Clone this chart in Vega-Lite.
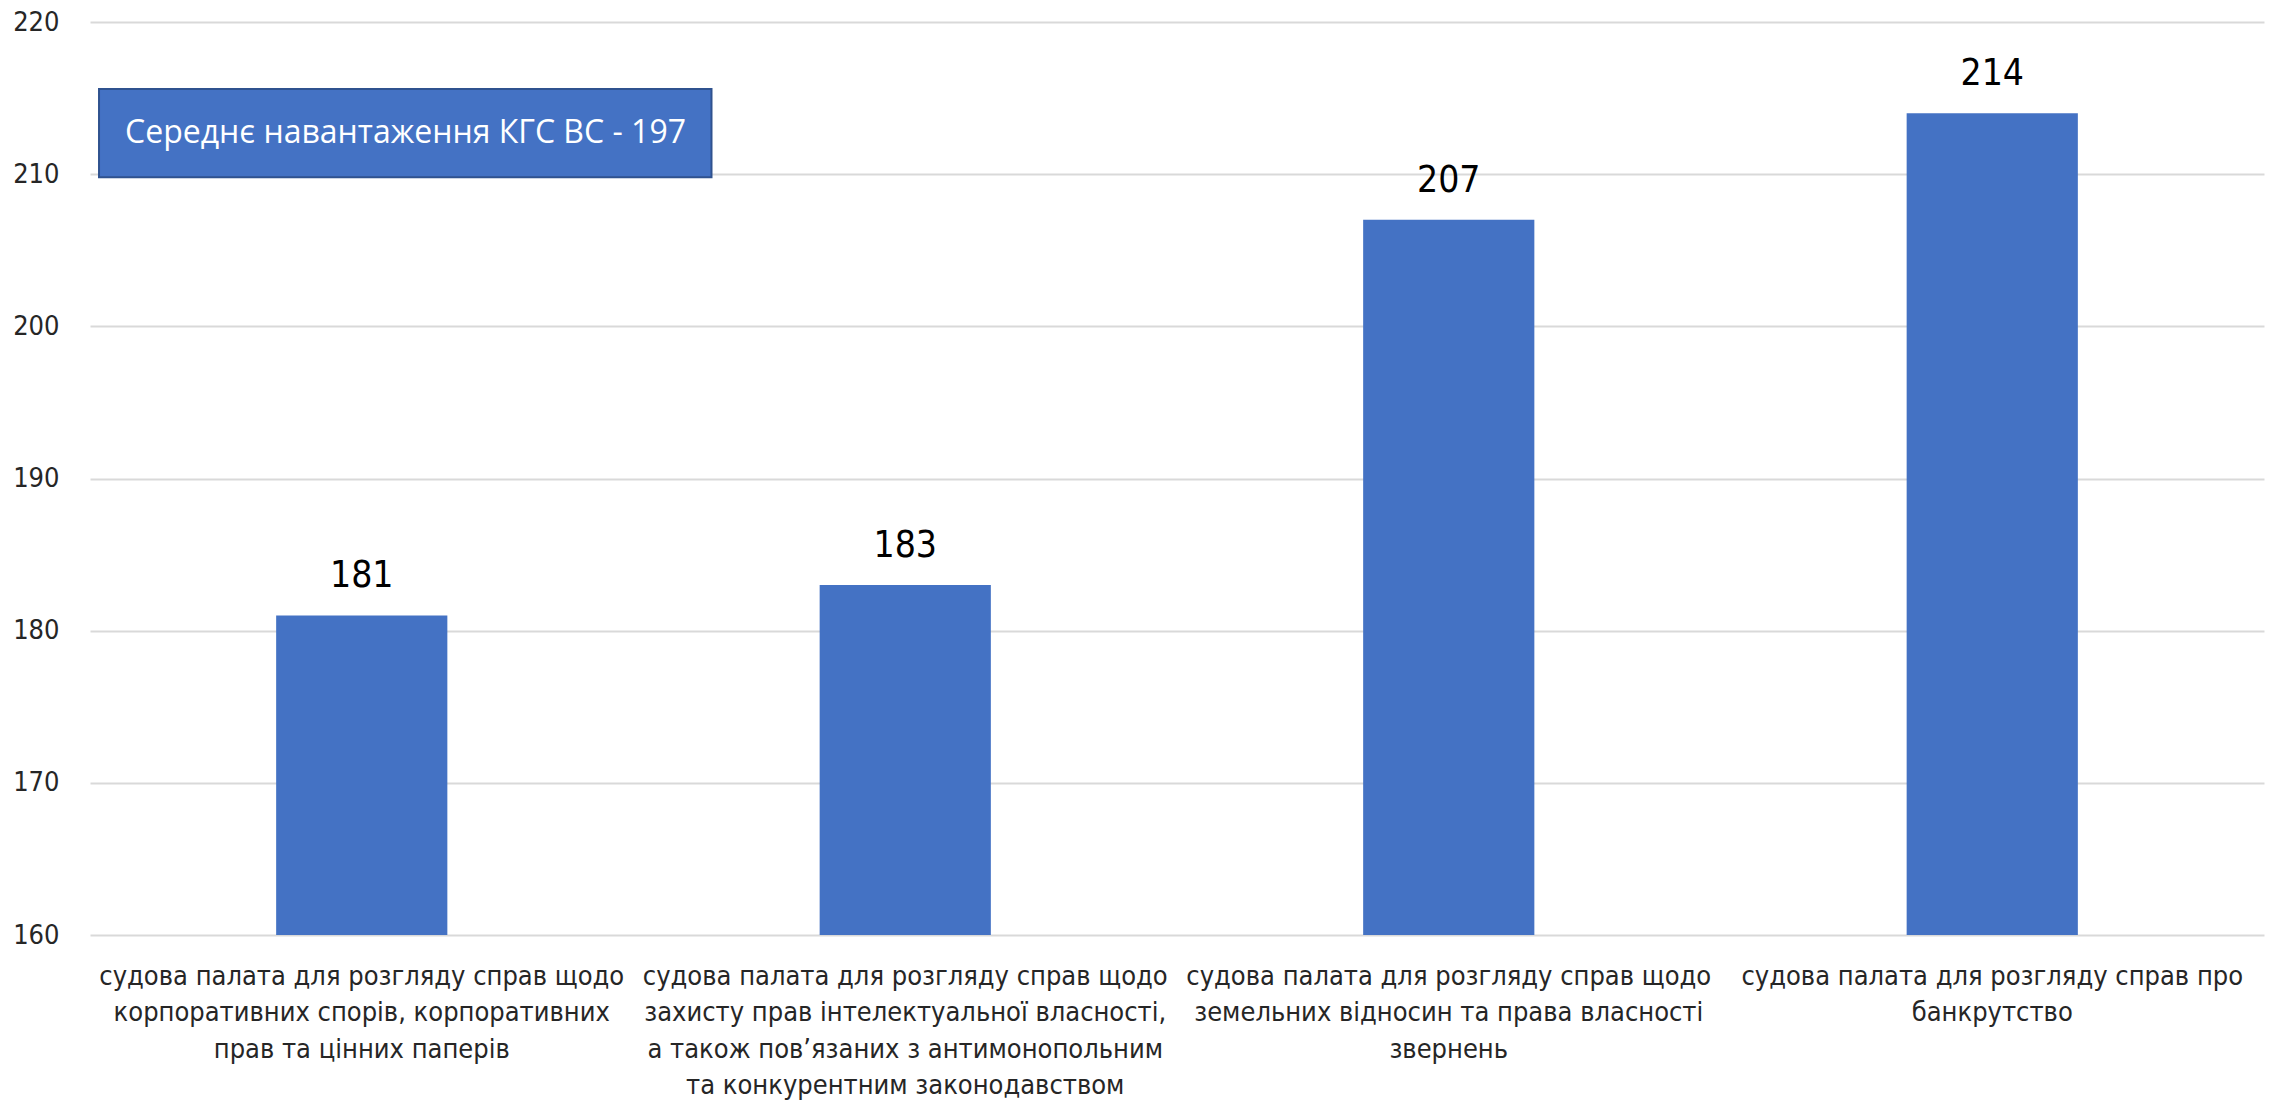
{
  "$schema": "https://vega.github.io/schema/vega-lite/v6.json",
  "autosize": {"type": "none"},
  "padding": {"left": 90, "top": 22, "right": 11, "bottom": 172},
  "width": 2174,
  "height": 913,
  "background": "white",
  "config": {"view": {"stroke": null}},
  "data": {
    "values": [
      {"category": "судова палата для розгляду справ щодо\nкорпоративних спорів, корпоративних\nправ та цінних паперів", "value": 181},
      {"category": "судова палата для розгляду справ щодо\nзахисту прав інтелектуальної власності,\nа також пов’язаних з антимонопольним\nта конкурентним законодавством", "value": 183},
      {"category": "судова палата для розгляду справ щодо\nземельних відносин та права власності\nзвернень", "value": 207},
      {"category": "судова палата для розгляду справ про\nбанкрутство", "value": 214}
    ]
  },
  "encoding": {
    "x": {
      "field": "category",
      "type": "nominal",
      "sort": null,
      "scale": {"paddingInner": 0, "paddingOuter": 0},
      "axis": {
        "title": null,
        "labelAngle": 0,
        "ticks": false,
        "domain": false,
        "labelExpr": "split(datum.value, '\\n')",
        "labelFont": "DejaVu Sans Condensed",
        "labelFontSize": 27,
        "labelLineHeight": 36.5,
        "labelColor": "#262626",
        "labelPadding": 28,
        "labelLimit": 0
      }
    }
  },
  "layer": [
    {
      "mark": {"type": "bar", "color": "#4472C4", "width": {"band": 0.315}},
      "encoding": {
        "y": {
          "field": "value",
          "type": "quantitative",
          "scale": {"domain": [160, 220], "nice": false, "zero": false},
          "axis": {
            "title": null,
            "values": [160, 170, 180, 190, 200, 210, 220],
            "ticks": false,
            "domain": false,
            "gridColor": "#D9D9D9",
            "gridWidth": 2,
            "labelFont": "DejaVu Sans Condensed",
            "labelFontSize": 27,
            "labelColor": "#262626",
            "labelPadding": 31
          }
        },
        "y2": {"datum": 160}
      }
    },
    {
      "mark": {"type": "text", "baseline": "bottom", "dy": -20, "font": "DejaVu Sans Condensed", "fontSize": 37, "color": "#000000"},
      "encoding": {
        "y": {"field": "value", "type": "quantitative"},
        "text": {"field": "value", "type": "quantitative"}
      }
    },
    {
      "data": {"values": [{"label": "Середнє навантаження КГС ВС - 197", "first": "судова палата для розгляду справ щодо\nкорпоративних спорів, корпоративних\nправ та цінних паперів", "second": "судова палата для розгляду справ щодо\nзахисту прав інтелектуальної власності,\nа також пов’язаних з антимонопольним\nта конкурентним законодавством", "top": 215.6, "bottom": 209.8, "mid": 212.7}]},
      "layer": [
        {
          "mark": {"type": "rect", "fill": "#4472C4", "stroke": "#2F528F", "strokeWidth": 2},
          "encoding": {
            "x": {"field": "first", "type": "nominal", "bandPosition": 0.0166},
            "x2": {"field": "second", "bandPosition": 0.1435},
            "y": {"field": "top", "type": "quantitative"},
            "y2": {"field": "bottom"}
          }
        },
        {
          "mark": {"type": "text", "align": "center", "baseline": "middle", "font": "Open Sans", "fontSize": 32, "color": "white"},
          "encoding": {
            "x": {"field": "first", "type": "nominal", "bandPosition": 0.5805},
            "y": {"field": "mid", "type": "quantitative"},
            "text": {"field": "label"}
          }
        }
      ]
    }
  ]
}
